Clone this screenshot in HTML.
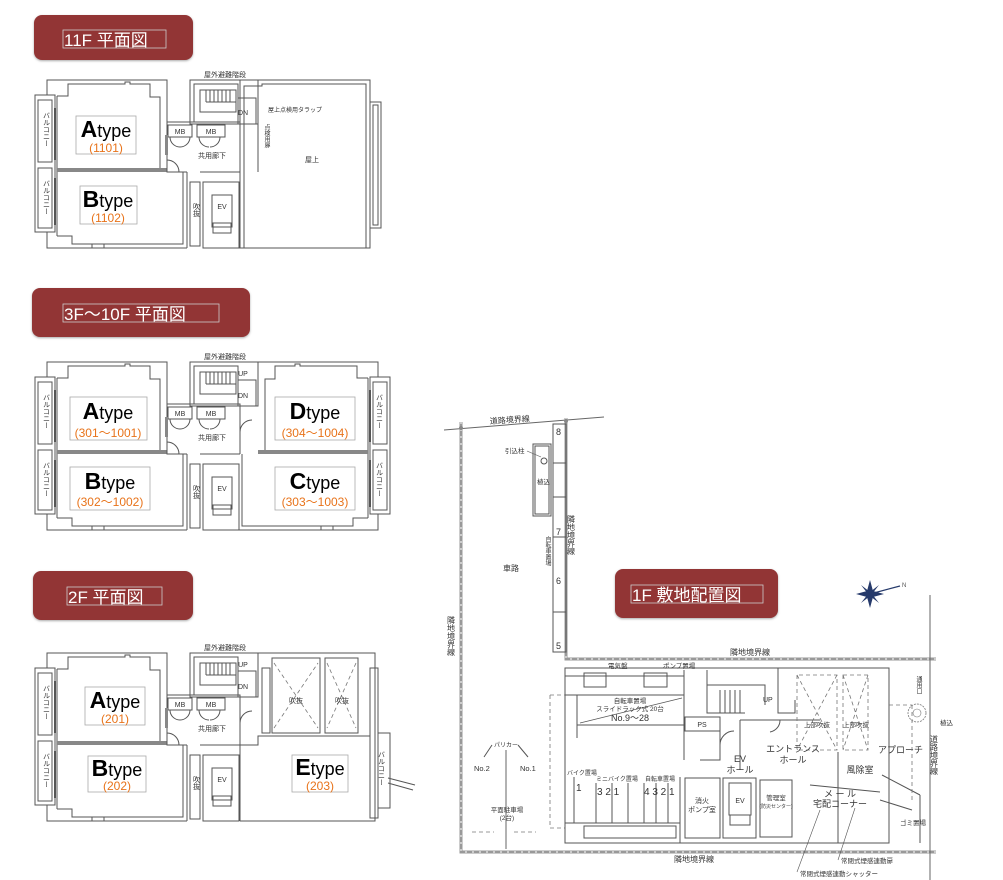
<!DOCTYPE html>
<html><head><meta charset="utf-8"><style>
html,body{margin:0;padding:0;background:#fff;}
svg{display:block;font-family:"Liberation Sans","Noto Sans CJK JP",sans-serif;}
.w{fill:none;stroke:#555;stroke-width:1}
.t{fill:#333;font-size:7px}
.v{writing-mode:vertical-rl;}
.ty{fill:#000;font-size:18px}
.ty tspan{font-size:23px;font-weight:bold}
.or{fill:#e8731a;font-size:12px}
.ttl{fill:#fff;font-size:17px}
.bd{fill:none;stroke:#999;stroke-width:3}
.bdw{fill:none;stroke:#fff;stroke-width:1;stroke-dasharray:2 5}
.ds{fill:none;stroke:#777;stroke-width:0.8;stroke-dasharray:4 3}
</style></head><body>
<svg width="1003" height="880" viewBox="0 0 1003 880" xmlns="http://www.w3.org/2000/svg">
<defs>
<filter id="sh" x="-5%" y="-5%" width="110%" height="120%"><feDropShadow dx="0" dy="1" stdDeviation="1" flood-color="#555" flood-opacity="0.5"/></filter>
<g id="U">
 <path class="w" d="M47,95 V80 H167 V122"/>
 <path class="w" d="M47,232 V248 H187"/>
 <rect class="w" x="35" y="95" width="20" height="137"/>
 <rect class="w" x="38" y="100" width="14" height="62"/>
 <rect class="w" x="38" y="168" width="14" height="60"/>
 <polyline class="w" points="57,96 68,96 68,84 125,84 125,82 130,82 130,84 150,84 150,97 160,97 160,168"/>
 <line class="w" x1="57" y1="96" x2="57" y2="236"/>
 <rect x="57" y="168" width="110" height="4" fill="#888"/>
 <polyline class="w" points="57,236 72,236 72,244 183,244 183,172"/>
 <line x1="55" y1="108" x2="55" y2="160" stroke="#555" stroke-width="2"/>
 <line x1="55" y1="178" x2="55" y2="225" stroke="#555" stroke-width="2"/>
 <rect class="w" x="92" y="244" width="12" height="4"/>
</g>
<g id="C">
 <rect class="w" x="190" y="80" width="68" height="44"/>
 <rect class="w" x="194" y="84" width="44" height="38"/>
 <path class="w" d="M200,90 H236 V112 H200 Z M206,90 V102 M210,90 V102 M214,90 V102 M218,90 V102 M222,90 V102 M226,90 V102 M230,90 V102 M206,102 H236"/>
 <rect class="w" x="238" y="98" width="18" height="26"/>
 <path class="w" d="M167,122 H240 V172 M167,122 V172 H187 M187,172 V248 M200,172 H240"/>
 <rect class="w" x="168" y="125" width="24" height="12"/>
 <rect class="w" x="197" y="125" width="28" height="12"/>
 <path class="w" d="M170,137 A10,10 0 0 0 180,147 M190,137 A10,10 0 0 1 180,147 M199,137 A10,10 0 0 0 209,147 M220,137 A10,10 0 0 1 210,147 M167,160 A12,12 0 0 1 179,172"/>
 <rect x="165" y="135" width="3" height="20" fill="#888"/>
 <rect class="w" x="190" y="182" width="10" height="64"/>
 <rect class="w" x="203" y="182" width="36" height="66"/>
 <rect class="w" x="212" y="195" width="20" height="32"/>
 <rect class="w" x="213" y="223" width="18" height="10"/>
 <text class="t" x="180" y="134" text-anchor="middle">MB</text>
 <text class="t" x="211" y="134" text-anchor="middle">MB</text>
 <text class="t" x="212" y="158" text-anchor="middle">共用廊下</text>
 <text class="t v" x="196" y="203">吹抜</text>
 <text class="t" x="222" y="209" text-anchor="middle">EV</text>
 <text class="t" x="225" y="77" text-anchor="middle">屋外避難階段</text>
</g>
</defs>

<!-- ===== 11F ===== -->
<rect x="34" y="15" width="159" height="45" rx="8" fill="#923636" filter="url(#sh)"/>
<rect x="63" y="30" width="103" height="18" fill="none" stroke="#ccc" stroke-width="0.8"/>
<text class="ttl" x="64" y="46">11F 平面図</text>
<use href="#U"/>
<use href="#C"/>
<rect class="w" x="240" y="80" width="130" height="168"/>
<polyline class="w" points="244,248 244,86 262,86 262,84 366,84 366,248"/>
<rect class="w" x="370" y="102" width="11" height="126"/>
<rect class="w" x="373" y="105" width="5" height="120"/>
<path class="w" d="M258,80 V172"/>
<text class="t" x="243" y="115" text-anchor="middle">DN</text>
<text class="t" x="268" y="112" style="font-size:6px">屋上点検用タラップ</text>
<text class="t v" x="266" y="124" style="font-size:6px">点検用扉</text>
<text class="t" x="312" y="162" text-anchor="middle">屋上</text>
<text class="t v" x="46" y="112">バルコニー</text>
<text class="t v" x="46" y="180">バルコニー</text>
<rect x="76" y="116" width="60" height="38" fill="none" stroke="#aaa" stroke-width="0.8"/>
<text class="ty" x="106" y="137" text-anchor="middle"><tspan>A</tspan>type</text>
<text class="or" x="106" y="152" text-anchor="middle">(1101)</text>
<rect x="80" y="186" width="57" height="38" fill="none" stroke="#aaa" stroke-width="0.8"/>
<text class="ty" x="108" y="207" text-anchor="middle"><tspan>B</tspan>type</text>
<text class="or" x="108" y="222" text-anchor="middle">(1102)</text>

<!-- ===== 3F-10F ===== -->
<rect x="32" y="288" width="218" height="49" rx="8" fill="#923636" filter="url(#sh)"/>
<rect x="63" y="304" width="156" height="18" fill="none" stroke="#ccc" stroke-width="0.8"/>
<text class="ttl" x="64" y="320">3F～10F 平面図</text>
<g transform="translate(0,282)">
 <use href="#U"/>
 <use href="#U" transform="translate(425,0) scale(-1,1)"/>
 <use href="#C"/>
 <path class="w" d="M240,122 V172 M258,80 V122"/>
 <path class="w" d="M240,150 A12,12 0 0 1 252,138"/>
 <text class="t" x="243" y="94" text-anchor="middle">UP</text>
 <text class="t" x="243" y="116" text-anchor="middle">DN</text>
 <text class="t v" x="46" y="112">バルコニー</text>
 <text class="t v" x="46" y="180">バルコニー</text>
 <text class="t v" x="379" y="112">バルコニー</text>
 <text class="t v" x="379" y="180">バルコニー</text>
 <rect x="70" y="115" width="77" height="43" fill="none" stroke="#aaa" stroke-width="0.8"/>
 <text class="ty" x="108" y="137" text-anchor="middle"><tspan>A</tspan>type</text>
 <text class="or" x="108" y="155" text-anchor="middle">(301～1001)</text>
 <rect x="275" y="115" width="80" height="43" fill="none" stroke="#aaa" stroke-width="0.8"/>
 <text class="ty" x="315" y="137" text-anchor="middle"><tspan>D</tspan>type</text>
 <text class="or" x="315" y="155" text-anchor="middle">(304～1004)</text>
 <rect x="70" y="185" width="80" height="43" fill="none" stroke="#aaa" stroke-width="0.8"/>
 <text class="ty" x="110" y="207" text-anchor="middle"><tspan>B</tspan>type</text>
 <text class="or" x="110" y="224" text-anchor="middle">(302～1002)</text>
 <rect x="275" y="185" width="80" height="43" fill="none" stroke="#aaa" stroke-width="0.8"/>
 <text class="ty" x="315" y="207" text-anchor="middle"><tspan>C</tspan>type</text>
 <text class="or" x="315" y="224" text-anchor="middle">(303～1003)</text>
</g>

<!-- ===== 2F ===== -->
<rect x="33" y="571" width="160" height="49" rx="8" fill="#923636" filter="url(#sh)"/>
<rect x="67" y="587" width="95" height="18" fill="none" stroke="#ccc" stroke-width="0.8"/>
<text class="ttl" x="68" y="603">2F 平面図</text>
<g transform="translate(0,573)">
 <use href="#U"/>
 <use href="#C"/>
 <path class="w" d="M258,80 H375 V248 H240 M258,80 V122 M240,172 V248"/>
 <path class="w" d="M240,150 A12,12 0 0 1 252,138"/>
 <rect class="w" x="262" y="95" width="8" height="65"/>
 <rect class="w" x="272" y="85" width="48" height="75"/>
 <rect class="w" x="325" y="85" width="33" height="75"/>
 <path class="ds" d="M274,155 L318,90 M274,90 L318,155 M327,90 L356,155 M356,90 L327,155"/>
 <path class="w" d="M240,172 H258 V163 H370"/>
 <rect class="w" x="370" y="95" width="8" height="150"/>
 <path class="w" d="M378,160 H390 V235 H378 M388,205 L415,212 M388,210 L413,217"/>
 <text class="t" x="243" y="94" text-anchor="middle">UP</text>
 <text class="t" x="243" y="116" text-anchor="middle">DN</text>
 <text class="t" x="296" y="130" text-anchor="middle">吹抜</text>
 <text class="t" x="342" y="130" text-anchor="middle">吹抜</text>
 <text class="t v" x="46" y="112">バルコニー</text>
 <text class="t v" x="46" y="180">バルコニー</text>
 <text class="t v" x="381" y="178">バルコニー</text>
 <rect x="85" y="114" width="60" height="38" fill="none" stroke="#aaa" stroke-width="0.8"/>
 <text class="ty" x="115" y="135" text-anchor="middle"><tspan>A</tspan>type</text>
 <text class="or" x="115" y="150" text-anchor="middle">(201)</text>
 <rect x="88" y="183" width="58" height="36" fill="none" stroke="#aaa" stroke-width="0.8"/>
 <text class="ty" x="117" y="203" text-anchor="middle"><tspan>B</tspan>type</text>
 <text class="or" x="117" y="217" text-anchor="middle">(202)</text>
 <rect x="292" y="182" width="56" height="37" fill="none" stroke="#aaa" stroke-width="0.8"/>
 <text class="ty" x="320" y="202" text-anchor="middle"><tspan>E</tspan>type</text>
 <text class="or" x="320" y="217" text-anchor="middle">(203)</text>
</g>

<!-- ===== SITE 1F ===== -->
<g>
 <line x1="444" y1="430" x2="604" y2="417" stroke="#666" stroke-width="1"/>
 <text class="t" x="490" y="423" style="font-size:8px" transform="rotate(-4 505 423)">道路境界線</text>
 <path class="bd" d="M461,422 V852 H936 M566,418 V659 H936"/>
 <path class="bdw" d="M461,422 V852 H936 M566,418 V659 H936"/>
 <line x1="930" y1="595" x2="930" y2="880" stroke="#666" stroke-width="1"/>
 <circle cx="461" cy="428" r="2" fill="#888"/><circle cx="566" cy="421" r="2" fill="#888"/>
 <rect class="w" x="553" y="424" width="13" height="228"/>
 <path class="w" d="M553,463 H566 M553,497 H566 M553,537 H566 M553,612 H566"/>
 <text class="t" x="556" y="435" style="font-size:9px">8</text>
 <text class="t" x="556" y="535" style="font-size:9px">7</text>
 <text class="t" x="556" y="584" style="font-size:9px">6</text>
 <text class="t" x="556" y="649" style="font-size:9px">5</text>
 <text class="t v" x="547" y="536" style="font-size:6px">自転車置場</text>
 <rect class="w" x="533" y="444" width="18" height="72"/><rect class="w" x="535" y="446" width="14" height="68"/>
 <circle class="w" cx="544" cy="461" r="3"/>
 <text class="t" x="505" y="453" style="font-size:6.5px">引込柱</text>
 <line x1="527" y1="451" x2="541" y2="457" stroke="#555" stroke-width="0.6"/>
 <text class="t" x="537" y="484" style="font-size:6.5px">植込</text>
 <text class="t" x="503" y="571" style="font-size:8px">車路</text>
 <text class="t v" x="451" y="616" style="font-size:8px">隣地境界線</text>
 <text class="t v" x="571" y="515" style="font-size:8px">隣地境界線</text>
 <text class="t" x="730" y="655" style="font-size:8px">隣地境界線</text>
 <text class="t" x="674" y="862" style="font-size:8px">隣地境界線</text>
 <text class="t v" x="934" y="735" style="font-size:8px">道路境界線</text>
 <path class="w" d="M565,668 H889 V843 H565 Z"/>
 <path class="w" d="M565,676 H684 M565,695 H577 V738 M577,695 H684 V725 H577"/>
 <rect class="w" x="584" y="673" width="22" height="14"/>
 <rect class="w" x="644" y="673" width="23" height="14"/>
 <line x1="580" y1="723" x2="682" y2="698" stroke="#555" stroke-width="0.7"/>
 <text class="t" x="608" y="668" style="font-size:6.5px">電気盤</text>
 <text class="t" x="663" y="668" style="font-size:6.5px">ポンプ置場</text>
 <text class="t" x="630" y="703" text-anchor="middle" style="font-size:6.5px">自転車置場</text>
 <text class="t" x="630" y="711" text-anchor="middle" style="font-size:6.5px">スライドラック式 20台</text>
 <text class="t" x="630" y="721" text-anchor="middle" style="font-size:9px">No.9～28</text>
 <path class="ds" d="M550,695 H565 M550,695 V828 H565"/>
 <rect class="w" x="685" y="717" width="35" height="14"/>
 <text class="t" x="702" y="727" text-anchor="middle">PS</text>
 <path class="w" d="M684,670 V760 M707,670 V713 H745 M707,685 H765 V705 M720,690 V713 M725,690 V713 M730,690 V713 M735,690 V713 M740,690 V713 M778,668 V713 H795 V700 M720,731 V760 H700"/>
 <text class="t" x="763" y="702">UP</text>
 <path class="w" d="M740,720 H820 M740,720 V770 M720,745 A14,14 0 0 1 734,731 M780,720 A12,12 0 0 1 770,732"/>
 <text class="t" x="740" y="762" text-anchor="middle" style="font-size:9px">EV</text>
 <text class="t" x="740" y="773" text-anchor="middle" style="font-size:9px">ホール</text>
 <path class="ds" d="M797,675 V750 H837 V675 Z M843,675 V750 H868 V675 Z M797,675 L837,750 M837,675 L797,750 M843,675 L868,750 M868,675 L843,750"/>
 <text class="t" x="817" y="727" text-anchor="middle" style="font-size:6.5px">上部吹抜</text>
 <text class="t" x="856" y="727" text-anchor="middle" style="font-size:6.5px">上部吹抜</text>
 <text class="t" x="793" y="752" text-anchor="middle" style="font-size:9px">エントランス</text>
 <text class="t" x="793" y="763" text-anchor="middle" style="font-size:9px">ホール</text>
 <text class="t" x="860" y="773" text-anchor="middle" style="font-size:9px">風除室</text>
 <text class="t" x="878" y="753" style="font-size:9px">アプローチ</text>
 <path class="w" d="M838,752 V843 M810,785 L880,792 M880,800 L912,810 M882,775 L920,795"/>
 <text class="t" x="840" y="797" text-anchor="middle" style="font-size:9px">メ ー ル</text>
 <text class="t" x="840" y="807" text-anchor="middle" style="font-size:9px">宅配コーナー</text>
 <rect class="w" x="685" y="778" width="35" height="60"/>
 <text class="t" x="702" y="803" text-anchor="middle">消火</text>
 <text class="t" x="702" y="812" text-anchor="middle">ポンプ室</text>
 <rect class="w" x="723" y="778" width="33" height="60"/>
 <rect class="w" x="729" y="783" width="22" height="32"/>
 <rect class="w" x="730" y="815" width="20" height="10"/>
 <text class="t" x="740" y="803" text-anchor="middle">EV</text>
 <rect class="w" x="760" y="780" width="32" height="57"/>
 <text class="t" x="776" y="800" text-anchor="middle" style="font-size:6.5px">管理室</text>
 <text class="t" x="776" y="808" text-anchor="middle" style="font-size:5px">(防災センター)</text>
 <path class="w" d="M574,777 V823 H680 V777 M596,783 V823 M612,783 V823 M628,783 V823 M644,783 V823 M656,783 V823 M668,783 V823"/>
 <rect class="w" x="565" y="823" width="115" height="20"/>
 <rect class="w" x="584" y="826" width="92" height="12"/>
 <text class="t" x="567" y="775" style="font-size:6px">バイク置場</text>
 <text class="t" x="596" y="781" style="font-size:6px">ミニバイク置場</text>
 <text class="t" x="645" y="781" style="font-size:6px">自転車置場</text>
 <text class="t" x="576" y="791" style="font-size:10px">1</text>
 <text class="t" x="597" y="795" style="font-size:10px">3 2 1</text>
 <text class="t" x="644" y="795" style="font-size:10px">4 3 2 1</text>
 <line x1="506" y1="750" x2="506" y2="849" stroke="#666" stroke-width="1"/>
 <text class="t" x="494" y="747" style="font-size:6px">パリカー</text>
 <path class="w" d="M492,745 L484,757 M518,745 L528,757" stroke-width="0.6"/>
 <text class="t" x="474" y="771" style="font-size:7.5px">No.2</text>
 <text class="t" x="520" y="771" style="font-size:7.5px">No.1</text>
 <text class="t" x="507" y="812" text-anchor="middle" style="font-size:6.5px">平面駐車場</text>
 <text class="t" x="507" y="820" text-anchor="middle" style="font-size:6.5px">(2台)</text>
 <path class="ds" d="M472,832 H494 M514,832 H536"/>
 <circle cx="917" cy="713" r="9" fill="none" stroke="#777" stroke-width="0.8" stroke-dasharray="2 1"/>
 <circle cx="917" cy="713" r="4" fill="none" stroke="#777" stroke-width="0.6"/>
 <text class="t" x="940" y="725" style="font-size:6.5px">植込</text>
 <text class="t v" x="918" y="676" style="font-size:6px">通用口</text>
 <path class="ds" d="M889,705 H912 M912,705 V800"/>
 <text class="t" x="900" y="825" style="font-size:6.5px">ゴミ置場</text>
 <path class="w" d="M920,795 V843"/>
 <line x1="820" y1="810" x2="797" y2="872" stroke="#555" stroke-width="0.6"/>
 <line x1="855" y1="808" x2="838" y2="860" stroke="#555" stroke-width="0.6"/>
 <text class="t" x="841" y="863" style="font-size:6.5px">常閉式煙感連動扉</text>
 <text class="t" x="800" y="876" style="font-size:6.5px">常閉式煙感連動シャッター</text>
 <g transform="translate(870,594)">
  <polygon points="0,-14 3,-3 14,0 3,3 0,14 -3,3 -14,0 -3,-3" fill="#263a6b"/>
  <polygon points="-9,-9 0,-2 9,-9 2,0 9,9 0,2 -9,9 -2,0" fill="#263a6b"/>
  <line x1="0" y1="0" x2="30" y2="-8" stroke="#263a6b" stroke-width="1.2"/>
  <text x="32" y="-7" style="font-size:6px" fill="#555">N</text>
 </g>
</g>
<rect x="615" y="569" width="163" height="49" rx="8" fill="#923636" filter="url(#sh)"/>
<rect x="631" y="585" width="132" height="18" fill="none" stroke="#ccc" stroke-width="0.8"/>
<text class="ttl" x="632" y="601">1F 敷地配置図</text>
</svg>
</body></html>
